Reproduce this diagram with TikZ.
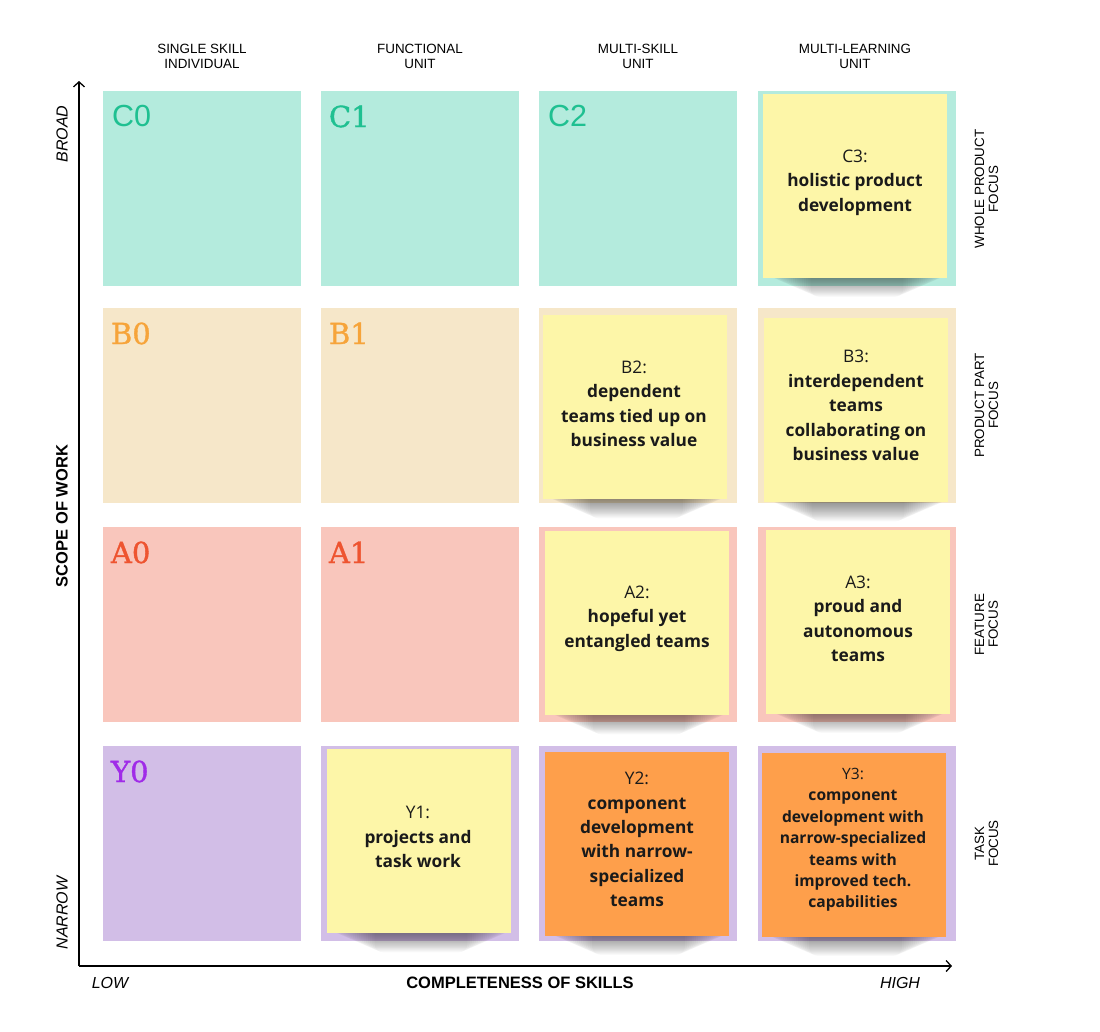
\documentclass[tikz,border=0pt]{standalone}
\usepackage{fontspec}
\setmainfont{Liberation Sans}
\newfontfamily\notefont{Open Sans}
\newfontfamily\slabfont[FakeBold=1.2]{DejaVu Serif}
\usetikzlibrary{arrows.meta,calc}
\definecolor{cfill}{HTML}{B4EBDD}
\definecolor{bfill}{HTML}{F6E7C9}
\definecolor{afill}{HTML}{F9C6BC}
\definecolor{yfill}{HTML}{D2BEE7}
\definecolor{ccol}{HTML}{1FC091}
\definecolor{bcol}{HTML}{F6A43A}
\definecolor{acol}{HTML}{EE5430}
\definecolor{ycol}{HTML}{A02BE8}
\definecolor{noteyellow}{HTML}{FDF6A8}
\definecolor{noteorange}{HTML}{FE9F4B}
\definecolor{inkcol}{HTML}{1A1A1A}
\pgfdeclarelayer{bg}
\pgfdeclarelayer{shd}
\pgfsetlayers{bg,shd,main}
\tikzset{
  cell/.style={minimum width=198pt, minimum height=195pt, inner sep=0pt, draw=none},
  celllabel/.style={anchor=north west, inner sep=0pt, font=\slabfont\fontsize{29}{31}\selectfont},
  sanslabel/.style={anchor=north west, inner sep=0pt, font=\fontsize{30.5}{32}\selectfont},
  sticky/.style={minimum width=184pt, minimum height=184pt, inner sep=0pt, draw=none},
  notetext/.style={align=center, inner sep=0pt, text=inkcol, font=\notefont\fontsize{17.3}{24.4}\selectfont},
  smallnotetext/.style={align=center, inner sep=0pt, text=inkcol, font=\notefont\fontsize{15.6}{21.4}\selectfont},
  header/.style={align=center, inner sep=0pt, text=black, font=\fontsize{13.4}{15}\selectfont},
  sidelabel/.style={align=center, inner sep=0pt, rotate=90, text=black, font=\fontsize{13.4}{13.8}\selectfont},
  axis/.style={line width=1.3pt, -{Straight Barb[length=5pt,width=11pt,line width=1.3pt]}},
  axisend/.style={inner sep=0pt, font=\itshape\fontsize{16}{18}\selectfont},
  axistitle/.style={inner sep=0pt, font=\bfseries\fontsize{16.5}{18}\selectfont}
}
\newcommand\noteshadow[1]{%
  \begin{pgfonlayer}{shd}
  \foreach \i in {0,...,19}{%
    \fill[black, opacity=0.022, rounded corners=8pt]
      ($(#1.south west)+(6+\i*2.2,-10)$) rectangle ($(#1.south east)+(-2-\i*2.2,1+\i*0.95)$);
  }
  \end{pgfonlayer}%
}
\begin{document}
\begin{tikzpicture}[x=1pt,y=-1pt]
\useasboundingbox (0,0) rectangle (1100,1031);
\begin{pgfonlayer}{bg}
\fill[white] (0,0) rectangle (1100,1031);
% cells
\node[cell, fill=cfill] (C0) at (202,188.5) {};
\node[cell, fill=cfill] (C1) at (420,188.5) {};
\node[cell, fill=cfill] (C2) at (638,188.5) {};
\node[cell, fill=cfill] (C3c) at (857,188.5) {};
\node[cell, fill=bfill] (B0) at (202,405.5) {};
\node[cell, fill=bfill] (B1) at (420,405.5) {};
\node[cell, fill=bfill] (B2c) at (638,405.5) {};
\node[cell, fill=bfill] (B3c) at (857,405.5) {};
\node[cell, fill=afill] (A0) at (202,624.5) {};
\node[cell, fill=afill] (A1) at (420,624.5) {};
\node[cell, fill=afill] (A2c) at (638,624.5) {};
\node[cell, fill=afill] (A3c) at (857,624.5) {};
\node[cell, fill=yfill] (Y0) at (202,843.5) {};
\node[cell, fill=yfill] (Y1c) at (420,843.5) {};
\node[cell, fill=yfill] (Y2c) at (638,843.5) {};
\node[cell, fill=yfill] (Y3c) at (857,843.5) {};
\end{pgfonlayer}
% cell labels
\node[sanslabel, text=ccol] (C0l) at ($(C0.north west)+(9,14.5)$) {C0};
\node[celllabel, text=ccol] (C1l) at ($(C1.north west)+(8,14.5)$) {C1};
\node[sanslabel, text=ccol] (C2l) at ($(C2.north west)+(9,14.5)$) {C2};
\node[celllabel, text=bcol] (B0l) at ($(B0.north west)+(8,14.5)$) {B0};
\node[celllabel, text=bcol] (B1l) at ($(B1.north west)+(8,14.5)$) {B1};
\node[celllabel, text=acol] (A0l) at ($(A0.north west)+(8,14.5)$) {A0};
\node[celllabel, text=acol] (A1l) at ($(A1.north west)+(8,14.5)$) {A1};
\node[celllabel, text=ycol] (Y0l) at ($(Y0.north west)+(8,14.5)$) {Y0};
% sticky notes
\node[sticky, fill=noteyellow] (C3) at (855,185.5) {};
\node[sticky, fill=noteyellow] (B2) at (634.5,407) {};
\node[sticky, fill=noteyellow] (B3) at (856,410) {};
\node[sticky, fill=noteyellow] (A2) at (637,623) {};
\node[sticky, fill=noteyellow] (A3) at (857.5,621.5) {};
\node[sticky, fill=noteyellow] (Y1) at (419,841) {};
\node[sticky, fill=noteorange] (Y2) at (636.5,843.5) {};
\node[sticky, fill=noteorange] (Y3) at (853.5,844.5) {};
\noteshadow{C3}
\noteshadow{B2}
\noteshadow{B3}
\noteshadow{A2}
\noteshadow{A3}
\noteshadow{Y1}
\noteshadow{Y2}
\noteshadow{Y3}
% sticky texts
\node[notetext] (C3t) at (855,182.5) {C3:\\\textbf{holistic product}\\\textbf{development}};
\node[notetext] (B2t) at (634,404) {B2:\\\textbf{dependent}\\\textbf{teams tied up on}\\\textbf{business value}};
\node[notetext] (B3t) at (856,405.5) {B3:\\\textbf{interdependent}\\\textbf{teams}\\\textbf{collaborating on}\\\textbf{business value}};
\node[notetext] (A2t) at (637,618.5) {A2:\\\textbf{hopeful yet}\\\textbf{entangled teams}};
\node[notetext] (A3t) at (858,619) {A3:\\\textbf{proud and}\\\textbf{autonomous}\\\textbf{teams}};
\node[notetext] (Y1t) at (418,837) {Y1:\\\textbf{projects and}\\\textbf{task work}};
\node[notetext] (Y2t) at (637,839.5) {Y2:\\\textbf{component}\\\textbf{development}\\\textbf{with narrow-}\\\textbf{specialized}\\\textbf{teams}};
\node[smallnotetext] (Y3t) at (853,840) {Y3:\\\textbf{component}\\\textbf{development with}\\\textbf{narrow-specialized}\\\textbf{teams with}\\\textbf{improved tech.}\\\textbf{capabilities}};
% column headers
\node[header] (h0) at (202,56.5) {SINGLE SKILL\\INDIVIDUAL};
\node[header] (h1) at (420,56.5) {FUNCTIONAL\\UNIT};
\node[header] (h2) at (638,56.5) {MULTI-SKILL\\UNIT};
\node[header] (h3) at (855,56.5) {MULTI-LEARNING\\UNIT};
% row labels
\node[sidelabel] (r3) at (986.5,189) {WHOLE PRODUCT\\FOCUS};
\node[sidelabel] (r2) at (986.5,405.5) {PRODUCT PART\\FOCUS};
\node[sidelabel] (r1) at (986.5,624.5) {FEATURE\\FOCUS};
\node[sidelabel] (r0) at (986.5,843.5) {TASK\\FOCUS};
% axes
\coordinate (O) at (79,966);
\coordinate (ytop) at (79,81);
\coordinate (xend) at (952,966);
\draw[axis] (O) -- (ytop);
\draw[axis] (O) -- (xend);
\node[axisend, rotate=90] (broad) at (62,134) {BROAD};
\node[axisend, rotate=90] (narrow) at (62,913) {NARROW};
\node[axistitle, rotate=90] (scope) at (62,516) {SCOPE OF WORK};
\node[axisend] (low) at (110,983) {LOW};
\node[axisend] (high) at (900,983) {HIGH};
\node[axistitle] (compl) at (520,983) {COMPLETENESS OF SKILLS};
\end{tikzpicture}
\end{document}
